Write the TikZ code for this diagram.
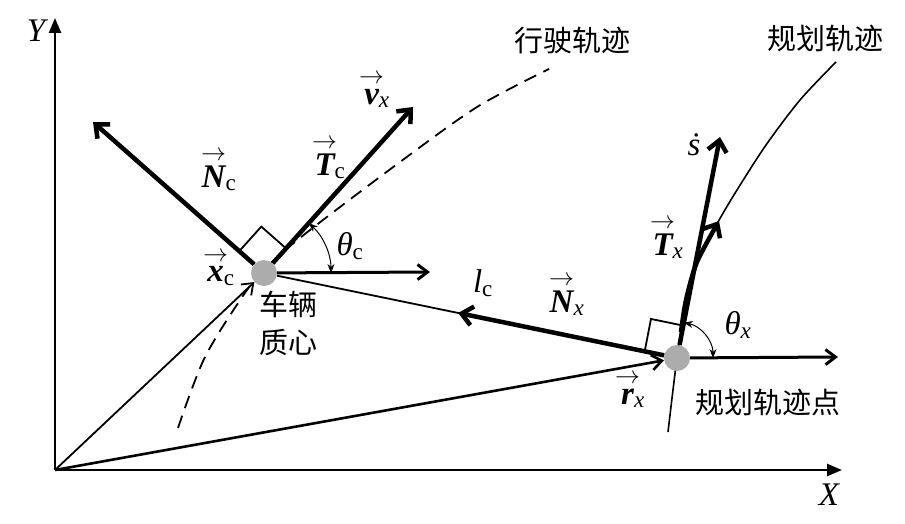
\documentclass[tikz,border=0pt]{standalone}
\usepackage{amsmath}
\usepackage{fontspec}
\setmainfont{Liberation Serif}
\newfontfamily\cjk{Noto Sans CJK SC}
\usetikzlibrary{arrows.meta,calc}

\newcommand{\bvsym}[1]{$\overset{\makebox[0pt]{$\scriptstyle\rightarrow$}}{\text{\bfseries\itshape #1}}$}

\tikzset{
  dot/.style={circle,fill=gray!65,inner sep=0pt,minimum size=26pt},
  axis/.style={line width=2.6pt,-{Triangle[length=15pt,width=12pt]}},
  vecline/.style={line width=4.5pt,-{Straight Barb[length=11pt,width=19pt]}},
  hline/.style={line width=3pt,-{Straight Barb[length=10pt,width=15pt]}},
  posline/.style={-{Straight Barb[length=10pt,width=15pt]}},
  angarc/.style={line width=1pt,{Stealth[length=9pt,width=7pt]}-{Stealth[length=9pt,width=7pt]}},
  rightang/.style={line width=1.8pt},
  cn/.style={font=\fontsize{29}{32}\selectfont\cjk},
  mlabel/.style={font=\fontsize{33}{35}\selectfont,inner sep=1pt},
}

\begin{document}
\begin{tikzpicture}[x=1pt,y=1pt]
    \useasboundingbox (0,0) rectangle (905,-524);

    % Axes
    \coordinate (O) at (55,-470);
    \coordinate (Xend) at (842,-470);
    \coordinate (Yend) at (55,-18);
    \draw[axis] (O) -- (Xend);
    \draw[axis] (O) -- (Yend);

    % Driving trajectory (dashed) and planned trajectory
    \draw[line width=1.8pt,dash pattern=on 13pt off 8pt] plot[smooth] coordinates {(178,-428) (205,-357) (247,-290) (272,-262) (310,-230) (400,-162) (477,-107) (549,-69)};
    \draw[line width=1.6pt] plot[smooth] coordinates {(668,-432) (677,-358) (686,-300) (697,-262) (718,-222) (737,-190) (766,-145) (800,-100) (836,-62)};

    % Vehicle centre of mass and planned point
    \node[dot] (C) at (264,-273) {};
    \node[dot] (P) at (677,-358) {};

    % Position vectors
    \draw[posline,line width=1.8pt] (O) -- (C);
    \draw[posline,line width=2.6pt] (O) -- (P);

    % Vectors at the vehicle
    \coordinate (Ntip) at (93,-122);
    \coordinate (Ttip) at (413,-107);
    \coordinate (Hc) at (430,-272);
    \draw[vecline] (C) -- (Ntip);
    \draw[vecline] (C) -- (Ttip);
    \draw[hline] (C) -- (Hc);
    \draw[rightang] ($(C)!33pt!(Ntip)$) -- ($(C)!33pt!(Ntip) + (C)!33pt!(Ttip) - (C)$) -- ($(C)!33pt!(Ttip)$);
    \draw[angarc] ($(C)+(67,0)$) arc[start angle=0,end angle=48,radius=67pt];

    % Distance line and normal vector
    \draw[line width=1.8pt] (C) -- (P);
    \coordinate (Nx) at ($(C)!0.47!(P)$);
    \draw[vecline] (P) -- (Nx);

    % Vectors at the planned point
    \coordinate (Stip) at (720,-137);
    \coordinate (Hx) at (838,-357);
    \draw[vecline] (P) -- (Stip);
    \draw[vecline] plot[smooth] coordinates {(681,-332) (686,-300) (697,-262) (719,-221)};
    \draw[hline] (P) -- (Hx);
    \draw[rightang] ($(P)!33pt!(C)$) -- ($(P)!33pt!(C) + (P)!33pt!(Stip) - (P)$) -- ($(P)!33pt!(Stip)$);
    \draw[angarc] ($(P)+(36,0)$) arc[start angle=0,end angle=79,radius=36pt];

    % Labels
    \node[mlabel] (lblY) at (36,-31) {\itshape Y};
    \node[mlabel] (lblX) at (829,-495) {\itshape X};
    \node[mlabel] (lblvx) at (377,-90) {\bvsym{v}\textsubscript{\itshape x}};
    \node[mlabel] (lblTc) at (330,-158) {\bvsym{T}\textsubscript{c}};
    \node[mlabel] (lblNc) at (219,-170) {\bvsym{N}\textsubscript{c}};
    \node[mlabel] (lblxc) at (221,-268) {\bvsym{x}\textsubscript{c}};
    \node[mlabel] (lblthc) at (350,-246) {\textit{θ}\textsubscript{c}};
    \node[mlabel] (lbllc) at (483,-283) {\textit{l}\textsubscript{c}};
    \node[mlabel] (lblNx) at (567,-295) {\bvsym{N}\textsubscript{\itshape x}};
    \node[mlabel] (lblrx) at (633,-390) {\bvsym{r}\textsubscript{\itshape x}};
    \node[mlabel] (lblsd) at (694,-145) {\itshape\.{s}};
    \node[mlabel] (lblTx) at (668,-238) {\bvsym{T}\textsubscript{\itshape x}};
    \node[mlabel] (lblthx) at (738,-325) {\textit{θ}\textsubscript{\itshape x}};
    \node[cn] (lblcar) at (288,-304) {车辆};
    \node[cn] (lblcm) at (288,-343) {质心};
    \node[cn] (lblpt) at (768,-402) {规划轨迹点};
    \node[cn] (lbldrive) at (572,-40) {行驶轨迹};
    \node[cn] (lblplan) at (825,-38) {规划轨迹};
\end{tikzpicture}
\end{document}
